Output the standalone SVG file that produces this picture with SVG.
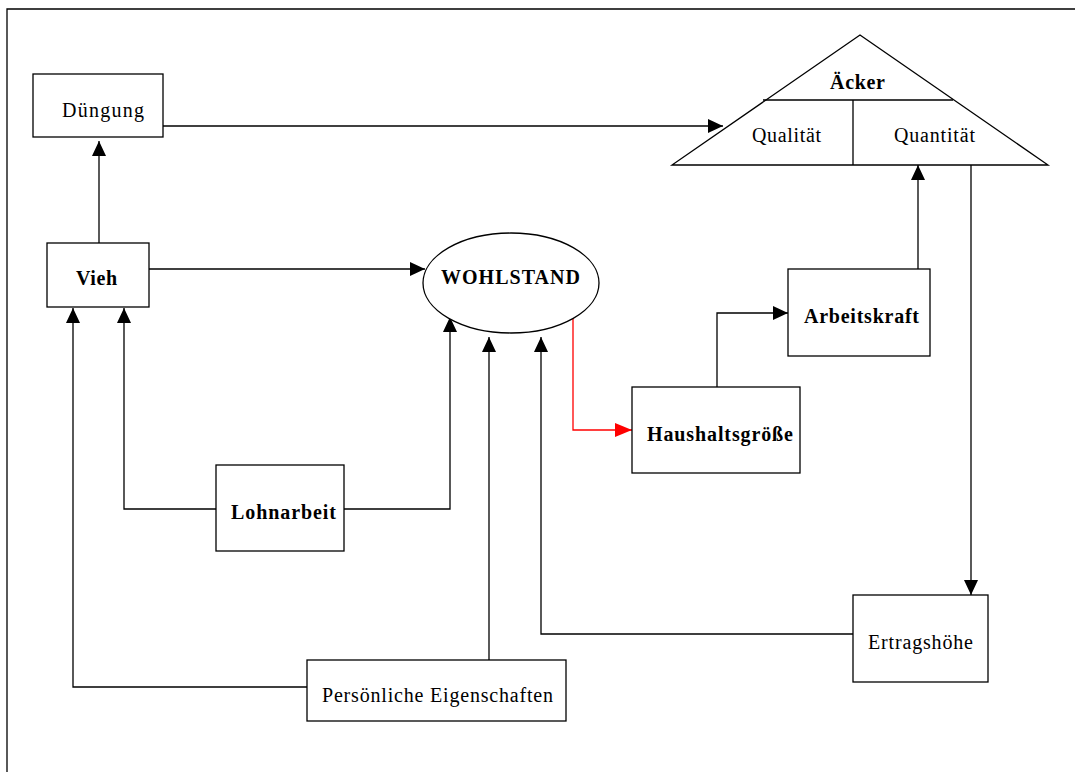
<svg xmlns="http://www.w3.org/2000/svg" width="1075" height="772" viewBox="0 0 1075 772">
<style>
.box{fill:#fff;stroke:#000;stroke-width:1.3}
.t{font-family:"Liberation Serif","Times New Roman",serif;font-size:20px;fill:#000}
.b{font-weight:bold}
.c{fill:none;stroke:#000;stroke-width:1.3}
.r{stroke:#f00}
</style>
<defs>
<marker id="ah" markerUnits="userSpaceOnUse" markerWidth="16" markerHeight="14" refX="15" refY="7" orient="auto">
<path d="M0,0 L15,7 L0,14 z" fill="#000"/>
</marker>
<marker id="ahr" markerUnits="userSpaceOnUse" markerWidth="17" markerHeight="14" refX="17" refY="7" orient="auto">
<path d="M0,0 L17,7 L0,14 z" fill="#f00"/>
</marker>
</defs>
<rect width="1075" height="772" fill="#fff"/>
<path d="M7,772 V9 H1075" fill="none" stroke="#000" stroke-width="1.3"/>
<g id="connectors">
<path class="c" d="M163,126 H723" marker-end="url(#ah)"/>
<path class="c" d="M99,243 V141" marker-end="url(#ah)"/>
<path class="c" d="M149,269 H425" marker-end="url(#ah)"/>
<path class="c" d="M217,509 H124 V308" marker-end="url(#ah)"/>
<path class="c" d="M344,509 H450 V317" marker-end="url(#ah)"/>
<path class="c" d="M307,687 H73 V308" marker-end="url(#ah)"/>
<path class="c" d="M489,660 V337" marker-end="url(#ah)"/>
<path class="c" d="M853,634 H541 V337" marker-end="url(#ah)"/>
<path class="c r" d="M573,318 V430 H632" marker-end="url(#ahr)"/>
<path class="c" d="M717,387 V313 H788" marker-end="url(#ah)"/>
<path class="c" d="M918,269 V165" marker-end="url(#ah)"/>
<path class="c" d="M971,165 V595" marker-end="url(#ah)"/>
</g>
<g id="duengung">
<rect class="box" x="33" y="74" width="130" height="63"/>
<text class="t" x="62" y="117" textLength="82" lengthAdjust="spacing">Düngung</text>
</g>
<g id="vieh">
<rect class="box" x="47" y="243" width="102" height="64"/>
<text class="t b" x="76" y="285" textLength="41" lengthAdjust="spacing">Vieh</text>
</g>
<g id="aecker">
<path class="box" d="M860,35 L1048,165 L672,165 z"/>
<path class="c" d="M763,100 H953 M853,100 V165"/>
<text class="t b" x="830" y="89" textLength="55" lengthAdjust="spacing">Äcker</text>
<text class="t" x="752" y="142" textLength="69" lengthAdjust="spacing">Qualität</text>
<text class="t" x="894" y="142" textLength="81" lengthAdjust="spacing">Quantität</text>
</g>
<g id="wohlstand">
<ellipse class="box" cx="511" cy="283" rx="88" ry="50"/>
<text class="t b" x="441" y="284" textLength="139" lengthAdjust="spacing">WOHLSTAND</text>
</g>
<g id="arbeitskraft">
<rect class="box" x="788" y="269" width="142" height="87"/>
<text class="t b" x="804" y="323" textLength="115" lengthAdjust="spacing">Arbeitskraft</text>
</g>
<g id="haushaltsgroesse">
<rect class="box" x="632" y="387" width="168" height="86"/>
<text class="t b" x="647" y="441" textLength="146" lengthAdjust="spacing">Haushaltsgröße</text>
</g>
<g id="lohnarbeit">
<rect class="box" x="216" y="465" width="128" height="86"/>
<text class="t b" x="231" y="519" textLength="105" lengthAdjust="spacing">Lohnarbeit</text>
</g>
<g id="persoenliche">
<rect class="box" x="307" y="660" width="259" height="61"/>
<text class="t" x="322" y="702" textLength="231" lengthAdjust="spacing">Persönliche Eigenschaften</text>
</g>
<g id="ertragshoehe">
<rect class="box" x="853" y="595" width="135" height="87"/>
<text class="t" x="868" y="649" textLength="105" lengthAdjust="spacing">Ertragshöhe</text>
</g>
</svg>
